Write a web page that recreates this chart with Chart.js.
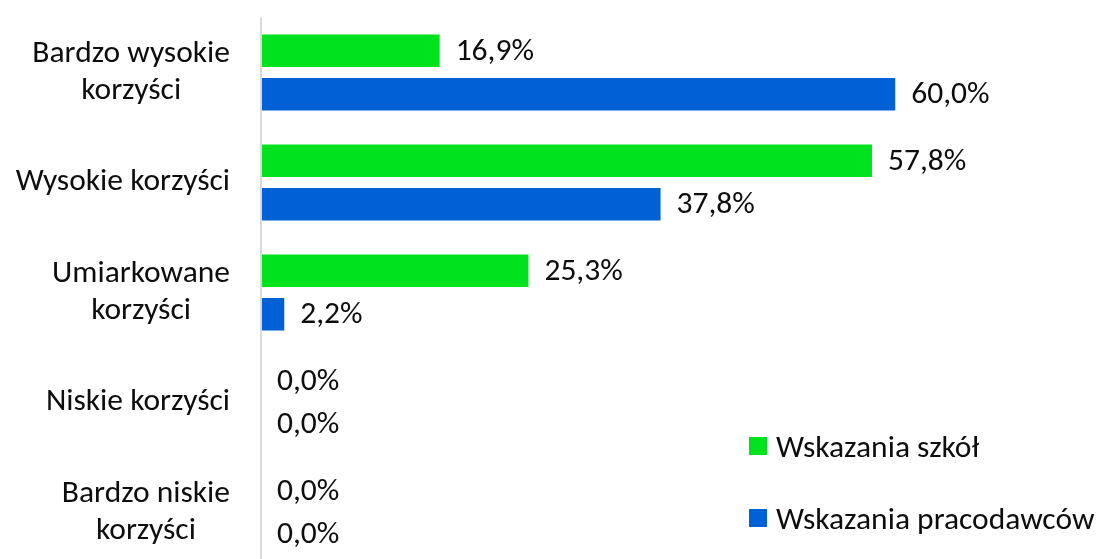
<!DOCTYPE html>
<html>
<head>
<meta charset="utf-8">
<script src="https://cdn.jsdelivr.net/npm/chart.js@4.4.1/dist/chart.umd.min.js"></script>
<style>
  html, body { margin: 0; padding: 0; background: #fff; overflow: hidden; }
  #wrap { position: relative; width: 1103px; height: 559px; overflow: hidden; }
  #pnl { position: absolute; left: 0; top: 0; }
  .legend-item { position: absolute; left: 749px; display: flex; align-items: center; height: 36px;
    font-family: Carlito, Calibri, Lato, sans-serif; font-size: 31.5px; color: #0d0d0d; white-space: nowrap; }
  .legend-item span.box { display: inline-block; width: 18px; height: 18px; margin-right: 9px; }
</style>
</head>
<body>
<div id="wrap">
  <canvas id="chart" width="1103" height="568"></canvas>
  <div class="legend-item" style="top:428px"><span class="box" style="background:#00E21E"></span>Wskazania szkół</div>
  <div class="legend-item" style="top:500px"><span class="box" style="background:#0060D6"></span>Wskazania pracodawców</div>
</div>
<script>
// categories (top to bottom) and series values in %
const categories = [
  ['Bardzo wysokie', 'korzyści'],
  ['Wysokie korzyści'],
  ['Umiarkowane', 'korzyści'],
  ['Niskie korzyści'],
  ['Bardzo niskie', 'korzyści'],
];
const schoolValues = [16.9, 57.8, 25.3, 0.0, 0.0];
const employerValues = [60.0, 37.8, 2.2, 0.0, 0.0];
const seriesNames = ['Wskazania szkół', 'Wskazania pracodawców'];

const FONT = '31.5px Carlito, Calibri, Lato, sans-serif';
const TEXT_COLOR = '#0d0d0d';

// Draws the vertical axis line, the category labels (centered block, right aligned) and value labels
const decorations = {
  id: 'decorations',
  afterDatasetsDraw(chart) {
    const ctx = chart.ctx;
    const area = chart.chartArea;
    const yScale = chart.scales.y;

    ctx.save();
    // axis line
    ctx.strokeStyle = '#d9d9d9';
    ctx.lineWidth = 2;
    ctx.beginPath();
    ctx.moveTo(area.left, area.top);
    ctx.lineTo(area.left, area.bottom);
    ctx.stroke();

    ctx.font = FONT;
    ctx.fillStyle = TEXT_COLOR;
    ctx.textBaseline = 'middle';

    // category labels
    const rightEdge = area.left - 31;
    const lineH = 37;
    categories.forEach((lines, i) => {
      const cy = yScale.getPixelForValue(i);
      const widths = lines.map(l => ctx.measureText(l).width);
      const blockW = Math.max(...widths);
      const centerX = rightEdge - blockW / 2;
      ctx.textAlign = 'center';
      lines.forEach((l, j) => {
        const y = cy + (j - (lines.length - 1) / 2) * lineH;
        ctx.fillText(l, centerX, y);
      });
    });

    // value labels
    ctx.textAlign = 'left';
    chart.data.datasets.forEach((ds, di) => {
      const meta = chart.getDatasetMeta(di);
      meta.data.forEach((bar, i) => {
        const txt = ds.data[i].toFixed(1).replace('.', ',') + '%';
        ctx.fillText(txt, bar.x + 16, bar.y + 1);
      });
    });
    ctx.restore();
  }
};

const ctx = document.getElementById('chart').getContext('2d');
new Chart(ctx, {
  type: 'bar',
  data: {
    labels: categories,
    datasets: [
      {
        label: seriesNames[0],
        data: schoolValues,
        backgroundColor: '#00E21E',
        borderWidth: 0,
        categoryPercentage: 0.79,
        barPercentage: 0.75,
      },
      {
        label: seriesNames[1],
        data: employerValues,
        backgroundColor: '#0060D6',
        borderWidth: 0,
        categoryPercentage: 0.79,
        barPercentage: 0.75,
      },
    ],
  },
  options: {
    indexAxis: 'y',
    responsive: false,
    animation: false,
    layout: {
      padding: { left: 261, top: 17.5, right: 17.5, bottom: 0.5 },
    },
    scales: {
      x: { display: false, min: 0, max: 78 },
      y: { display: false },
    },
    plugins: {
      legend: { display: false },
      tooltip: { enabled: false },
    },
  },
  plugins: [decorations],
});
</script>
</body>
</html>
